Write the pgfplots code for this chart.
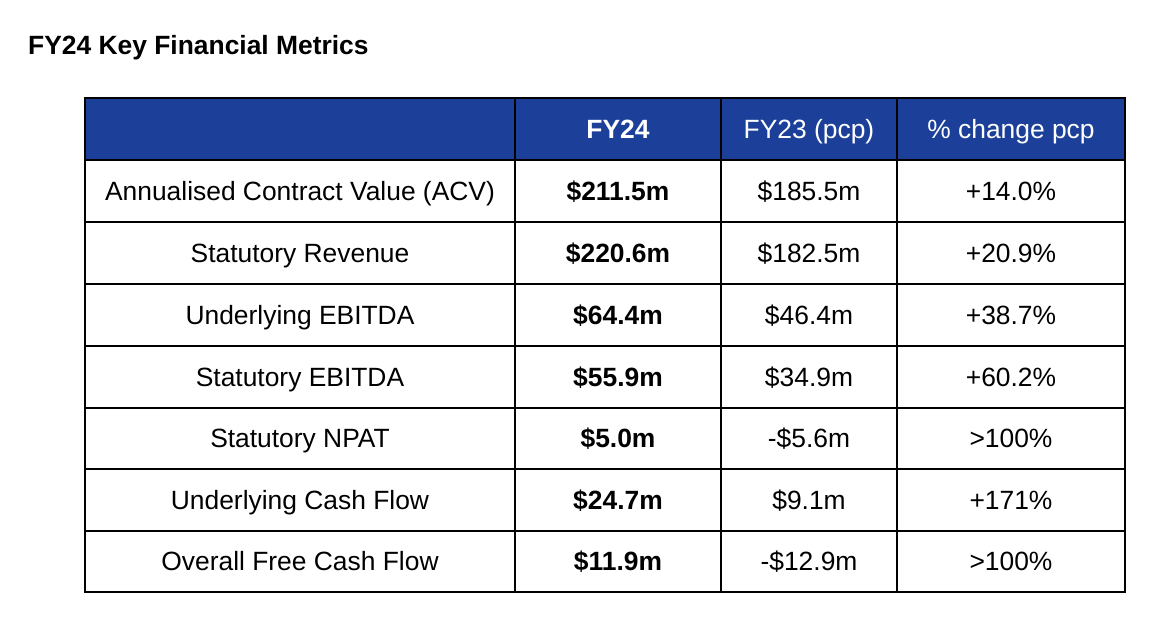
\documentclass[border=0pt]{standalone}
\usepackage{pgfplots}
\pgfplotsset{compat=1.18}
\usepackage{fontspec}
\setmainfont{Liberation Sans}
\definecolor{hdrblue}{HTML}{1C4099}
\newcommand{\cellfont}{\fontsize{26.4bp}{30bp}\selectfont}
\begin{document}
\begin{tikzpicture}
\begin{axis}[
  scale only axis, width=1164bp, height=634bp,
  xmin=0, xmax=1164, ymin=0, ymax=634, y dir=reverse,
  hide axis, clip=false,
  every node near coord/.append style={anchor=base, yshift=-9bp, inner sep=0pt, font=\cellfont, text=black},
]
% page extent
\addplot[draw=none, mark=none, forget plot] coordinates {(0,0) (1164,634)};
% header fill
\addplot[fill=hdrblue, draw=none, mark=none] coordinates {(85,98) (1125,98) (1125,160) (85,160)} -- cycle;
% horizontal rules
\addplot[black, line width=1.8bp, mark=none] coordinates {(85,160) (1125,160)};
\addplot[black, line width=1.8bp, mark=none] coordinates {(85,222) (1125,222)};
\addplot[black, line width=1.8bp, mark=none] coordinates {(85,284) (1125,284)};
\addplot[black, line width=1.8bp, mark=none] coordinates {(85,346) (1125,346)};
\addplot[black, line width=1.8bp, mark=none] coordinates {(85,408) (1125,408)};
\addplot[black, line width=1.8bp, mark=none] coordinates {(85,469) (1125,469)};
\addplot[black, line width=1.8bp, mark=none] coordinates {(85,531) (1125,531)};
% vertical rules
\addplot[black, line width=1.8bp, mark=none] coordinates {(515,98) (515,592)};
\addplot[black, line width=1.8bp, mark=none] coordinates {(721,98) (721,592)};
\addplot[black, line width=1.8bp, mark=none] coordinates {(897,98) (897,592)};
% outer border
\addplot[black, line width=2bp, mark=none] coordinates {(85,98) (1125,98) (1125,592) (85,592)} -- cycle;
% title
\addplot[only marks, mark=none, nodes near coords, point meta=explicit symbolic,
  every node near coord/.append style={anchor=base west, font=\cellfont\bfseries}]
  coordinates {(28,46) [FY24 Key Financial Metrics]};
% header text
\addplot[only marks, mark=none, nodes near coords, point meta=explicit symbolic,
  every node near coord/.append style={text=white, font=\cellfont\bfseries}]
  coordinates {(618,129) [FY24]};
\addplot[only marks, mark=none, nodes near coords, point meta=explicit symbolic,
  every node near coord/.append style={text=white}]
  coordinates {(809,129) [FY23 (pcp)] (1011,129) [\% change pcp]};
% metric names
\addplot[only marks, mark=none, nodes near coords, point meta=explicit symbolic]
  coordinates {
  (300,191) [Annualised Contract Value (ACV)]
  (300,253) [Statutory Revenue]
  (300,315) [Underlying EBITDA]
  (300,377) [Statutory EBITDA]
  (300,438) [Statutory NPAT]
  (300,500) [Underlying Cash Flow]
  (300,561) [Overall Free Cash Flow]
  };
% FY24 values (bold)
\addplot[only marks, mark=none, nodes near coords, point meta=explicit symbolic,
  every node near coord/.append style={font=\cellfont\bfseries}]
  coordinates {
  (618,191) [\$211.5m]
  (618,253) [\$220.6m]
  (618,315) [\$64.4m]
  (618,377) [\$55.9m]
  (618,438) [\$5.0m]
  (618,500) [\$24.7m]
  (618,561) [\$11.9m]
  };
% FY23 values
\addplot[only marks, mark=none, nodes near coords, point meta=explicit symbolic]
  coordinates {
  (809,191) [\$185.5m]
  (809,253) [\$182.5m]
  (809,315) [\$46.4m]
  (809,377) [\$34.9m]
  (809,438) [-\$5.6m]
  (809,500) [\$9.1m]
  (809,561) [-\$12.9m]
  };
% % change
\addplot[only marks, mark=none, nodes near coords, point meta=explicit symbolic]
  coordinates {
  (1011,191) [+14.0\%]
  (1011,253) [+20.9\%]
  (1011,315) [+38.7\%]
  (1011,377) [+60.2\%]
  (1011,438) [>100\%]
  (1011,500) [+171\%]
  (1011,561) [>100\%]
  };
\end{axis}
\end{tikzpicture}
\end{document}
